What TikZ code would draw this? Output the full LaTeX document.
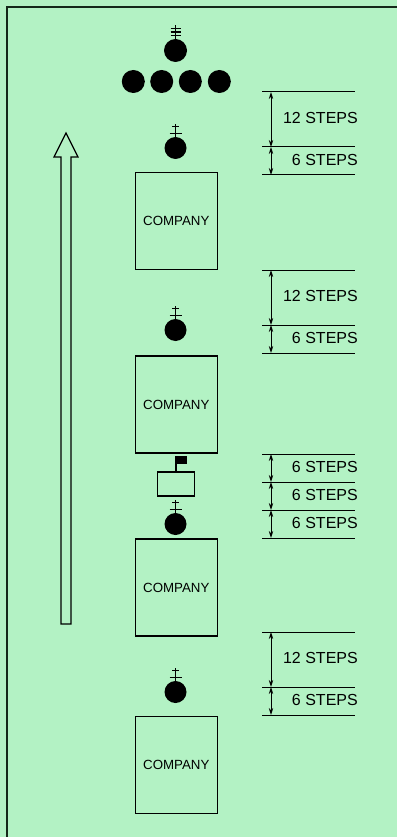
\documentclass[tikz,border=0pt]{standalone}
\usepackage{fontspec}
\setmainfont{Liberation Sans}
\usetikzlibrary{arrows.meta}
\definecolor{bggreen}{RGB}{179,242,196}
\definecolor{frameink}{RGB}{20,40,25}
\begin{document}
\begin{tikzpicture}[x=1pt,y=-1pt,
  company/.style={draw, line width=1.2pt, minimum width=82pt, minimum height=97pt,
    inner sep=0pt, font=\fontsize{13.3}{14}\selectfont},
  orb/.style={circle, fill=black, minimum size=23pt, inner sep=0pt},
  cross/.style={line width=1.1pt},
  dimline/.style={line width=1pt},
  dimarrow/.style={line width=0.9pt, {Stealth[length=7pt,width=4.4pt]}-{Stealth[length=7pt,width=4.4pt]}},
  steps/.style={anchor=east, inner sep=0pt, font=\fontsize{16}{18}\selectfont},
  flagbox/.style={draw, line width=1.2pt, minimum width=37pt, minimum height=24pt, inner sep=0pt}]

% background and frame
\useasboundingbox (0,0) rectangle (397,837);
\fill[bggreen] (0,0) rectangle (397,837);
\draw[frameink, line width=1.8pt] (7,837) -- (7,7) -- (397,7);

% leading orb with triple cross
\node[orb] (lead) at (175.5,50.5) {};
\draw[cross] (lead.north) -- (175.5,25);
\foreach \yy in {28.5,32,35.5} \draw[cross] (170.5,\yy) -- (180.5,\yy);

% row of four
\foreach \i/\xx in {1/133.3,2/161.7,3/190.3,4/219.3}
  \node[orb] (row\i) at (\xx,81.5) {};

% companies with their orbs
\node[company] (c1) at (176.3,221) {COMPANY};
\node[company] (c2) at (176.3,404.5) {COMPANY};
\node[company] (c3) at (176.3,587.5) {COMPANY};
\node[company] (c4) at (176.3,765) {COMPANY};

\node[orb, minimum size=22pt] (o1) at (175.5,148) {};
\node[orb, minimum size=22pt] (o2) at (175.5,330) {};
\node[orb, minimum size=22pt] (o3) at (175.5,524) {};
\node[orb, minimum size=22pt] (o4) at (175.5,692) {};

\foreach \o in {o1,o2,o3,o4}{
  \draw[cross] (\o.north) -- ++(0,-13);
  \draw[cross] ([xshift=-6pt,yshift=3pt]\o.north) -- ++(12,0);
  \draw[cross] ([xshift=-3.5pt,yshift=10pt]\o.north) -- ++(7,0);
}

% colour box with flag
\node[flagbox] (fb) at (176,484) {};
\coordinate (pole) at (176,456);
\draw[line width=1.1pt] (fb.north) -- (pole);
\fill (pole) rectangle ++(11,8);

% hollow direction arrow
\draw[line width=1.2pt, line join=miter]
  (61,624) -- (61,157) -- (54,157) -- (66,133) -- (78,157) -- (71,157) -- (71,624) -- cycle;

% step distances
\foreach \n/\yy in {a1/92,a2/147,a3/175,
                    b1/270,b2/325,b3/353,
                    d1/454,d2/482,d3/510,d4/538,
                    e1/632,e2/687,e3/715}{
  \coordinate (\n L) at (262,\yy);
  \coordinate (\n R) at (355,\yy);
  \coordinate (\n A) at (271,\yy);
  \draw[dimline] (\n L) -- (\n R);
}
\draw[dimarrow] (a1A) -- (a2A);
\draw[dimarrow] (a2A) -- (a3A);
\draw[dimarrow] (b1A) -- (b2A);
\draw[dimarrow] (b2A) -- (b3A);
\draw[dimarrow] (d1A) -- (d2A);
\draw[dimarrow] (d2A) -- (d3A);
\draw[dimarrow] (d3A) -- (d4A);
\draw[dimarrow] (e1A) -- (e2A);
\draw[dimarrow] (e2A) -- (e3A);

\node[steps] (ta1) at (358,118) {12 STEPS};
\node[steps] (ta2) at (358,160) {6 STEPS};
\node[steps] (tb1) at (358,296) {12 STEPS};
\node[steps] (tb2) at (358,338) {6 STEPS};
\node[steps] (td1) at (358,467) {6 STEPS};
\node[steps] (td2) at (358,495) {6 STEPS};
\node[steps] (td3) at (358,523) {6 STEPS};
\node[steps] (te1) at (358,658) {12 STEPS};
\node[steps] (te2) at (358,700) {6 STEPS};
\end{tikzpicture}
\end{document}
